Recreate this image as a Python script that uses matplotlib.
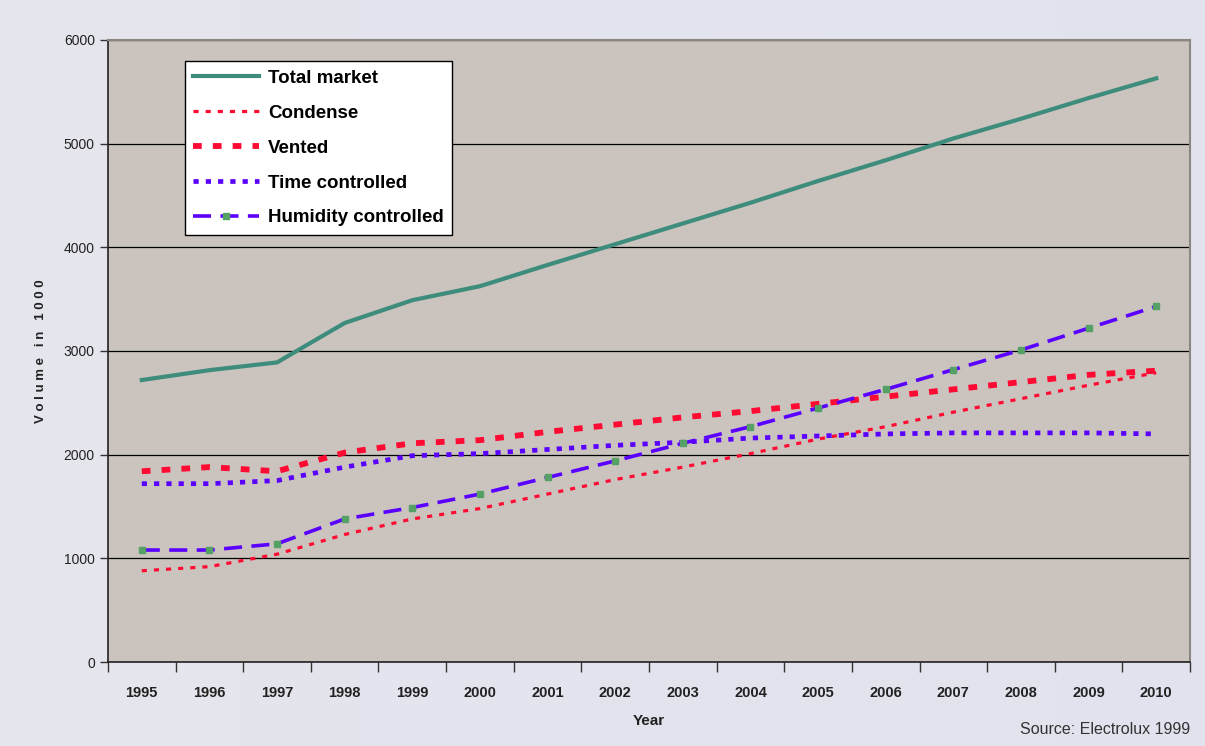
import matplotlib.pyplot as plt
import numpy as np

years = [str(y) for y in range(1995, 2011)]
total_market = [2720, 2815, 2890, 3270, 3490, 3625, 3830, 4030, 4230, 4430, 4640, 4840, 5050, 5240, 5440, 5630]
condense = [880, 920, 1040, 1230, 1380, 1480, 1620, 1760, 1880, 2010, 2150, 2270, 2410, 2540, 2670, 2790]
vented = [1840, 1880, 1840, 2020, 2110, 2140, 2220, 2290, 2360, 2420, 2490, 2560, 2630, 2700, 2770, 2810]
time_ctrl = [1720, 1720, 1750, 1880, 1990, 2010, 2050, 2090, 2120, 2160, 2180, 2200, 2210, 2210, 2210, 2200]
humidity = [1080, 1080, 1140, 1380, 1490, 1620, 1780, 1940, 2110, 2270, 2450, 2630, 2820, 3010, 3220, 3430]

TEAL = "#3d8c7c"
RED = "#ff0a33"
BLUE = "#5a00ff"
GREEN = "#55a064"
PLOT_BG = "#cbc4be"

plt.rcParams["font.family"] = ["Liberation Sans", "DejaVu Sans"]

fig = plt.figure(figsize=(12.05, 7.46), dpi=100)
fig.patch.set_facecolor("#e6e6ee")

# soft backdrop, stands in for the blurred photo behind the slide
bg = fig.add_axes([0, 0, 1, 1], zorder=-10)
grad = np.linspace(0, 1, 256)
img = np.ones((256, 256, 3))
img[..., 0] = 0.90 - 0.02 * grad[None, :]
img[..., 1] = 0.90 - 0.01 * grad[None, :]
img[..., 2] = 0.93
bg.imshow(img, aspect="auto", extent=(0, 1, 0, 1))
bg.axis("off")

ax = fig.add_axes([0.0896, 0.1126, 0.898, 0.8338])
ax.set_facecolor(PLOT_BG)
x = np.arange(len(years))

ax.plot(x, total_market, color=TEAL, lw=3, label="Total market", zorder=5)
ax.plot(x, condense, color=RED, lw=2.3, dashes=(1.6, 2.2), label="Condense", zorder=4)
ax.plot(x, vented, color=RED, lw=4.2, dashes=(1.5, 1.9), label="Vented", zorder=4)
ax.plot(x, time_ctrl, color=BLUE, lw=3.4, dashes=(1.1, 1.5), label="Time controlled", zorder=4)
ax.plot(x, humidity, color=BLUE, lw=2.6, dashes=(5, 2.6), marker="s", ms=5,
        mfc=GREEN, mec=GREEN, label="Humidity controlled", zorder=4)

ax.set_xlim(-0.5, len(years) - 0.5)
ax.set_ylim(0, 6000)
ax.set_yticks(range(0, 6001, 1000))
ax.yaxis.grid(True, color="black", lw=0.9)
ax.set_axisbelow(True)

ax.set_xticks(x)
ax.set_xticklabels(years, fontsize=10.5, fontweight="bold", color="#222222")
ax.set_xticks(np.arange(-0.5, len(years)), minor=True)
ax.tick_params(axis="x", which="major", length=0, pad=17)
ax.tick_params(axis="x", which="minor", length=7, width=1, color="#333333")
ax.tick_params(axis="y", length=6, width=1, labelsize=10, color="#333333", labelcolor="#222222")

for s in ["left", "bottom"]:
    ax.spines[s].set_color("#222222")
    ax.spines[s].set_linewidth(1.2)
for s in ["top", "right"]:
    ax.spines[s].set_color("#8c8680")
    ax.spines[s].set_linewidth(1.5)

ax.set_xlabel("Year", fontsize=11, fontweight="bold", labelpad=10, color="#222222")
ax.set_ylabel("V o l u m e   i n   1 0 0 0", fontsize=9.5, fontweight="bold", labelpad=12, color="#222222")

leg = ax.legend(loc="upper left", bbox_to_anchor=(0.071, 0.966), borderaxespad=0,
                prop={"weight": "bold", "size": 13.5}, frameon=True, fancybox=False,
                edgecolor="black", facecolor="white", framealpha=1,
                handlelength=3.5, handletextpad=0.5, labelspacing=0.95, borderpad=0.45)
leg.get_frame().set_linewidth(1.0)

fig.text(0.988, 0.012, "Source: Electrolux 1999", ha="right", va="bottom", fontsize=11.5, color="#333333")

fig.savefig("out.png", dpi=100, facecolor=fig.get_facecolor())
